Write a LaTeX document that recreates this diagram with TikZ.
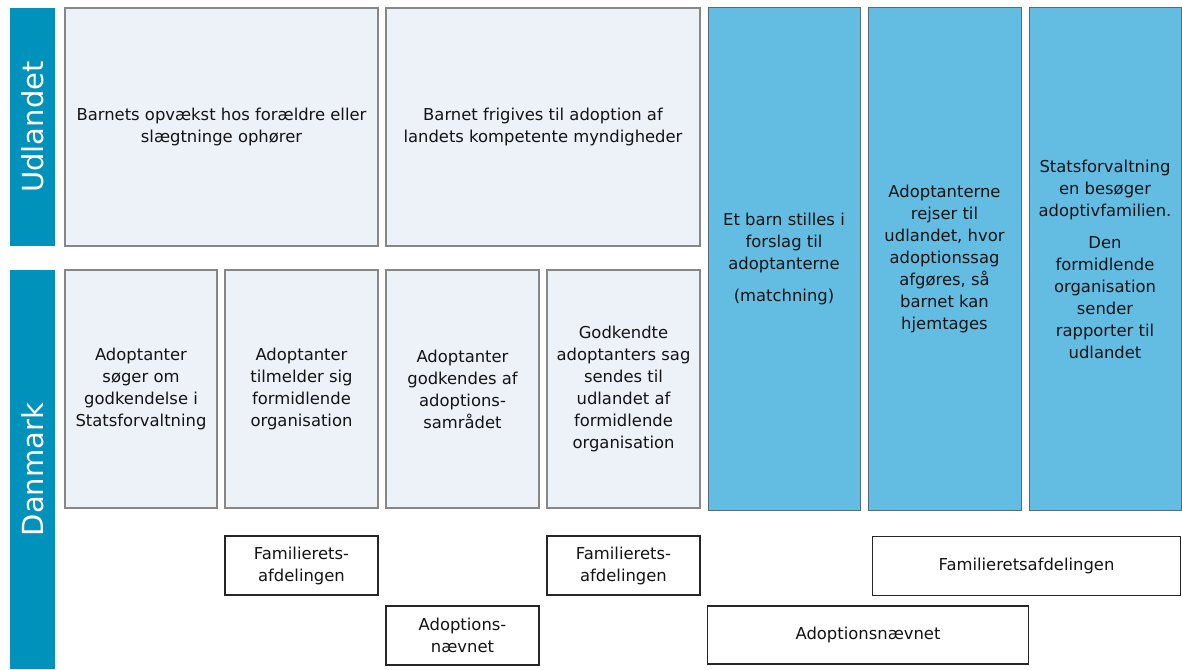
\documentclass[tikz,border=0pt]{standalone}
\usepackage{fontspec}
\setmainfont{DejaVu Sans}
\definecolor{teal}{RGB}{0,146,187}
\definecolor{lightfill}{RGB}{237,241,248}
\definecolor{lightdraw}{RGB}{135,135,135}
\definecolor{bluefill}{RGB}{99,189,226}
\definecolor{bluedraw}{RGB}{80,110,125}
\definecolor{txt}{RGB}{20,20,20}
\begin{document}
\begin{tikzpicture}[x=1pt,y=-1pt,
  every node/.style={inner sep=0pt, align=center, text=txt, font=\fontsize{16.4}{22}\selectfont},
  bar/.style={fill=teal, draw=none},
  bartext/.style={rotate=90, text=white, font=\fontsize{29}{30}\selectfont},
  light/.style={fill=lightfill, draw=lightdraw, line width=1.2pt},
  blue/.style={fill=bluefill, draw=bluedraw, line width=1pt},
  org/.style={fill=white, draw=black!85, line width=1.5pt}]
\useasboundingbox (0,0) rectangle (1182,669);
% side bars
\node[bar, minimum width=45pt, minimum height=238pt] (ud) at (32.5,127) {};
\node[bartext] (udt) at (ud.center) {Udlandet};
\node[bar, minimum width=45pt, minimum height=399pt] (dk) at (32.5,469.5) {};
\node[bartext] (dkt) at (dk.center) {Danmark};
% top row
\node[light, minimum width=313pt, minimum height=238pt] (b1) at (221.5,127) {Barnets opvækst hos forældre eller\\slægtninge ophører};
\node[light, minimum width=314pt, minimum height=238pt] (b2) at (543,127) {Barnet frigives til adoption af\\landets kompetente myndigheder};
% blue columns
\node[blue, minimum width=152pt, minimum height=502pt] (c1) at (784,259) {Et barn stilles i\\forslag til\\adoptanterne\\[10pt](matchning)};
\node[blue, minimum width=153pt, minimum height=502pt] (c2) at (944.5,259) {Adoptanterne\\rejser til\\udlandet, hvor\\adoptionssag\\afgøres, så\\barnet kan\\hjemtages};
\node[blue, minimum width=152pt, minimum height=502pt] (c3) at (1105,259) {Statsforvaltning\\en besøger\\adoptivfamilien.\\[10pt]Den\\formidlende\\organisation\\sender\\rapporter til\\udlandet};
% lower row
\node[light, minimum width=152pt, minimum height=238pt] (d1) at (141,389) {Adoptanter\\søger om\\godkendelse i\\Statsforvaltning};
\node[light, minimum width=153pt, minimum height=238pt] (d2) at (301.5,389) {Adoptanter\\tilmelder sig\\formidlende\\organisation};
\node[light, minimum width=153pt, minimum height=238pt] (d3) at (462.5,389) {Adoptanter\\godkendes af\\adoptions-\\samrådet};
\node[light, minimum width=153pt, minimum height=238pt] (d4) at (623.5,389) {Godkendte\\adoptanters sag\\sendes til\\udlandet af\\formidlende\\organisation};
% authorities
\node[org, minimum width=153pt, minimum height=59pt] (f1) at (301.5,565.5) {Familierets-\\afdelingen};
\node[org, minimum width=153pt, minimum height=59pt] (f2) at (623.5,565.5) {Familierets-\\afdelingen};
\node[org, minimum width=308pt, minimum height=59pt] (f3) at (1026.5,566) {Familieretsafdelingen};
\node[org, minimum width=153pt, minimum height=59pt] (a1) at (462.5,635.5) {Adoptions-\\nævnet};
\node[org, minimum width=321pt, minimum height=58pt] (a2) at (868,635) {Adoptionsnævnet};
\end{tikzpicture}
\end{document}
